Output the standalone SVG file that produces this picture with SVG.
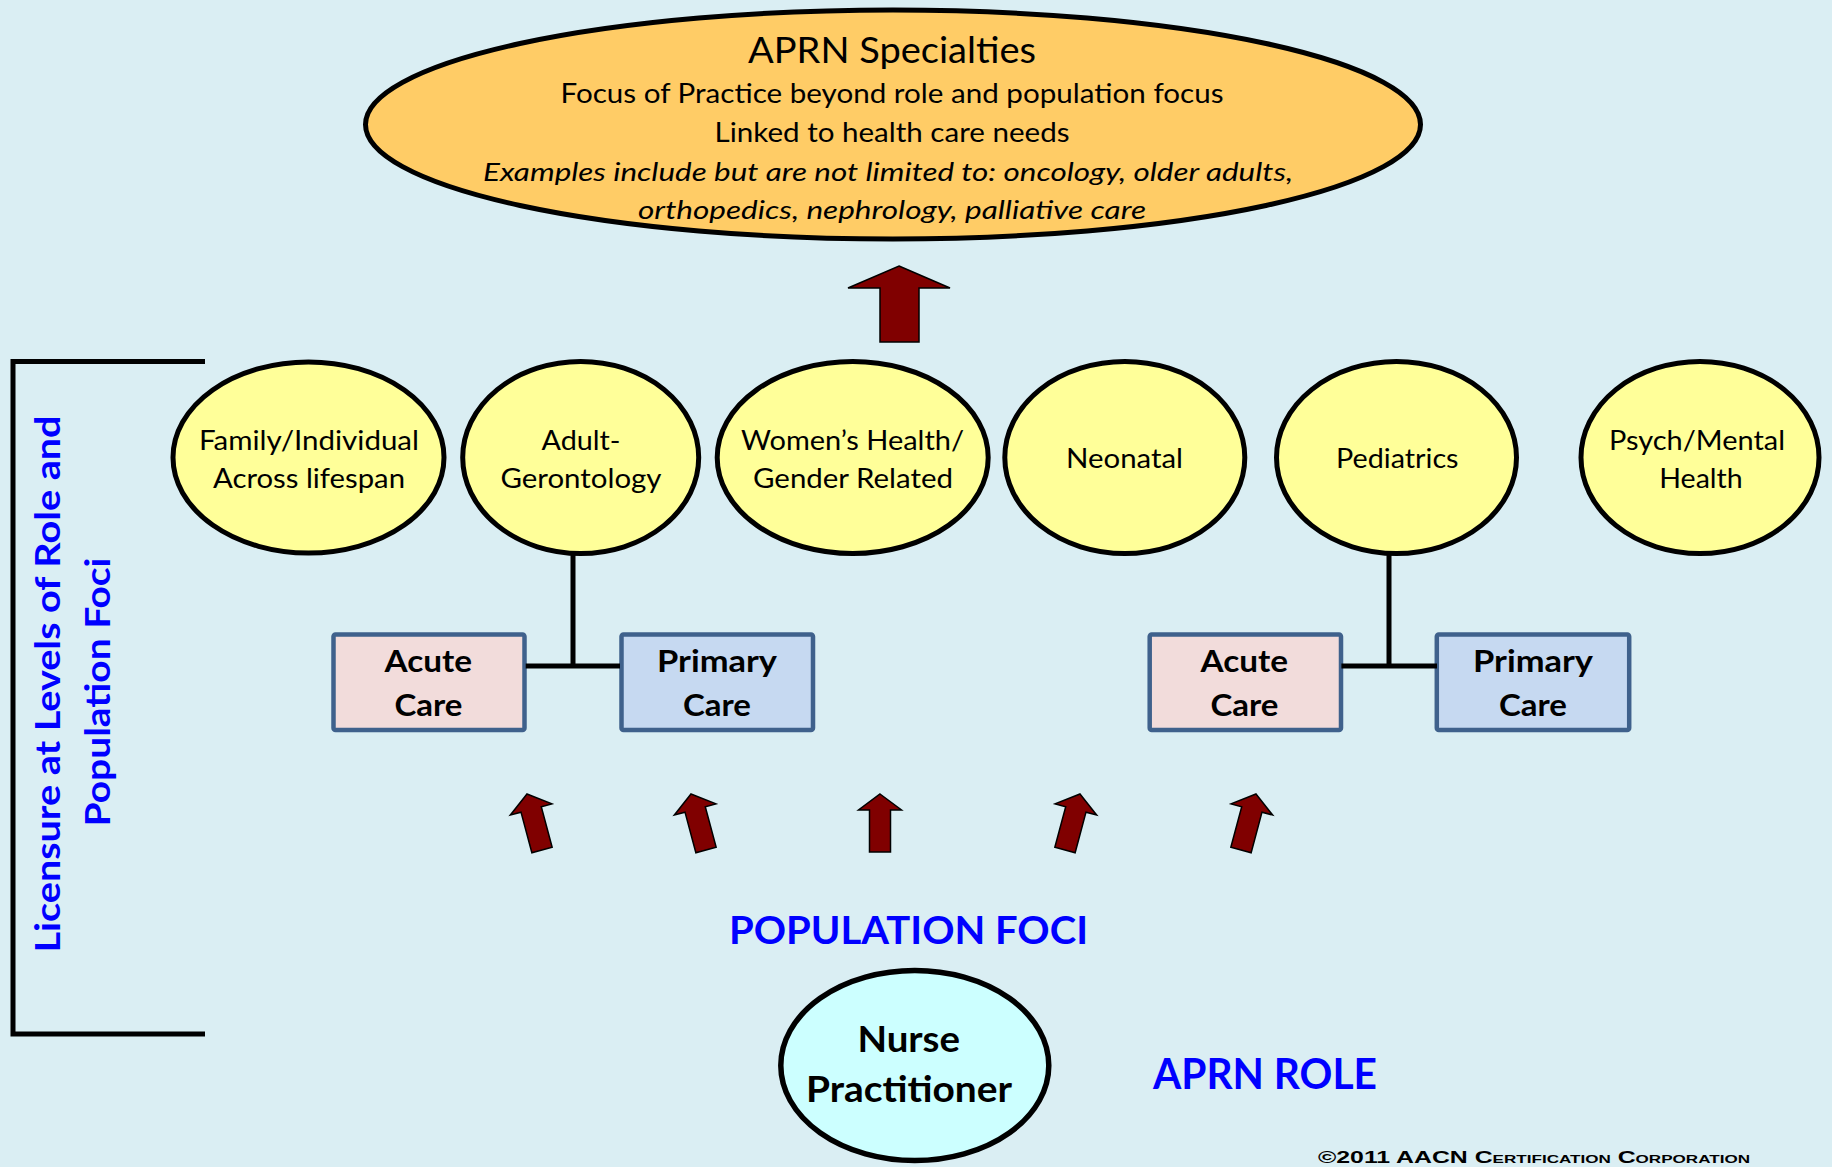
<svg xmlns="http://www.w3.org/2000/svg" width="1832" height="1167" viewBox="0 0 1832 1167">
<style>
.t{font-family:Lato,"Liberation Sans",sans-serif;fill:#000;text-anchor:middle}
.b{font-weight:bold}
.blue{fill:#0000FF;font-weight:bold}
.pop{fill:#FFFF99;stroke:#000;stroke-width:5}
.box{stroke:#3F618C;stroke-width:4.5}
.ln{stroke:#000;stroke-width:5;fill:none}
.arr{fill:#800000;stroke:#000;stroke-width:1.5;stroke-linejoin:miter}
</style>
<defs>
<polygon id="sa" points="0,0 21.5,16 10.5,16 10.5,58 -10.5,58 -10.5,16 -21.5,16"/>
</defs>
<rect x="0" y="0" width="1832" height="1167" fill="#DAEEF3"/>

<g id="specialties">
<ellipse cx="893" cy="124.5" rx="527.5" ry="114.5" fill="#FFCC66" stroke="#000" stroke-width="5"/>
<text class="t" x="892" y="63" font-size="36" textLength="288" lengthAdjust="spacingAndGlyphs">APRN Specialties</text>
<text class="t" x="892" y="103" font-size="26" textLength="663" lengthAdjust="spacingAndGlyphs">Focus of Practice beyond role and population focus</text>
<text class="t" x="892" y="141.5" font-size="26" textLength="355" lengthAdjust="spacingAndGlyphs">Linked to health care needs</text>
<text class="t" x="888" y="180.5" font-size="26" font-style="italic" textLength="810" lengthAdjust="spacingAndGlyphs">Examples include but are not limited to: oncology, older adults,</text>
<text class="t" x="892" y="218.5" font-size="26" font-style="italic" textLength="508" lengthAdjust="spacingAndGlyphs">orthopedics, nephrology, palliative care</text>
</g>

<g id="bracket">
<path class="ln" d="M205,361.5 H13 V1034 H205" stroke-width="5.5"/>
<text class="t blue" transform="translate(60,684) rotate(-90)" font-size="35" textLength="537" lengthAdjust="spacingAndGlyphs">Licensure at Levels of Role and</text>
<text class="t blue" transform="translate(110,692) rotate(-90)" font-size="35" textLength="269" lengthAdjust="spacingAndGlyphs">Population Foci</text>
</g>

<g id="family">
<ellipse class="pop" cx="308.5" cy="457.5" rx="135.5" ry="95.5" stroke-width="7"/>
<text class="t" x="309" y="450" font-size="27" textLength="220" lengthAdjust="spacingAndGlyphs">Family/Individual</text>
<text class="t" x="309" y="487.7" font-size="27" textLength="192" lengthAdjust="spacingAndGlyphs">Across lifespan</text>
</g>
<g id="adult">
<ellipse class="pop" cx="580.7" cy="457.5" rx="118" ry="96"/>
<text class="t" x="581" y="450" font-size="27" textLength="79" lengthAdjust="spacingAndGlyphs">Adult-</text>
<text class="t" x="581" y="487.7" font-size="27" textLength="161" lengthAdjust="spacingAndGlyphs">Gerontology</text>
</g>
<g id="womens">
<ellipse class="pop" cx="852.7" cy="457.5" rx="135.5" ry="96"/>
<text class="t" x="852.6" y="450" font-size="27" textLength="223" lengthAdjust="spacingAndGlyphs">Women’s Health/</text>
<text class="t" x="853" y="487.7" font-size="27" textLength="200" lengthAdjust="spacingAndGlyphs">Gender Related</text>
</g>
<g id="neonatal">
<ellipse class="pop" cx="1124.8" cy="457.5" rx="120" ry="96"/>
<text class="t" x="1124.5" y="468.3" font-size="27" textLength="117" lengthAdjust="spacingAndGlyphs">Neonatal</text>
</g>
<g id="pediatrics">
<ellipse class="pop" cx="1396.5" cy="457.5" rx="120" ry="96"/>
<text class="t" x="1397.3" y="468.3" font-size="27" textLength="122.5" lengthAdjust="spacingAndGlyphs">Pediatrics</text>
</g>
<g id="psych">
<ellipse class="pop" cx="1700" cy="457.5" rx="119" ry="96"/>
<text class="t" x="1697" y="450" font-size="27" textLength="176" lengthAdjust="spacingAndGlyphs">Psych/Mental</text>
<text class="t" x="1701" y="487.7" font-size="27" textLength="83.5" lengthAdjust="spacingAndGlyphs">Health</text>
</g>

<g id="acute-left">
<rect class="box" x="333.5" y="634.5" width="191" height="95.5" rx="2" fill="#F2DCDB"/>
<text class="t b" x="428.3" y="671.7" font-size="31" textLength="87.5" lengthAdjust="spacingAndGlyphs">Acute</text>
<text class="t b" x="428.5" y="716" font-size="31" textLength="68" lengthAdjust="spacingAndGlyphs">Care</text>
</g>
<g id="primary-left">
<rect class="box" x="621.5" y="634.5" width="191.5" height="95.5" rx="2" fill="#C6D9F1"/>
<text class="t b" x="717" y="671.7" font-size="31" textLength="120" lengthAdjust="spacingAndGlyphs">Primary</text>
<text class="t b" x="717" y="716" font-size="31" textLength="68" lengthAdjust="spacingAndGlyphs">Care</text>
</g>
<g id="acute-right">
<rect class="box" x="1149.7" y="634.5" width="191.3" height="95.5" rx="2" fill="#F2DCDB"/>
<text class="t b" x="1244.3" y="671.7" font-size="31" textLength="87.5" lengthAdjust="spacingAndGlyphs">Acute</text>
<text class="t b" x="1244.5" y="716" font-size="31" textLength="68" lengthAdjust="spacingAndGlyphs">Care</text>
</g>
<g id="primary-right">
<rect class="box" x="1436.8" y="634.5" width="192.4" height="95.5" rx="2" fill="#C6D9F1"/>
<text class="t b" x="1533" y="671.7" font-size="31" textLength="120" lengthAdjust="spacingAndGlyphs">Primary</text>
<text class="t b" x="1533" y="716" font-size="31" textLength="68" lengthAdjust="spacingAndGlyphs">Care</text>
</g>

<g id="nurse-practitioner">
<ellipse cx="914.8" cy="1065.5" rx="134" ry="95" fill="#CCFFFF" stroke="#000" stroke-width="5.5"/>
<text class="t b" x="908.7" y="1051.7" font-size="36" textLength="102.6" lengthAdjust="spacingAndGlyphs">Nurse</text>
<text class="t b" x="909" y="1101.7" font-size="36" textLength="206" lengthAdjust="spacingAndGlyphs">Practitioner</text>
</g>

<g id="labels">
<text class="t blue" x="908.5" y="944" font-size="39" textLength="359" lengthAdjust="spacingAndGlyphs">POPULATION FOCI</text>
<text class="t blue" x="1265" y="1089" font-size="42" textLength="224" lengthAdjust="spacingAndGlyphs">APRN ROLE</text>
<text x="1318" y="1163" font-family="'Liberation Sans',Arial,sans-serif" font-weight="bold" font-size="16" font-variant="small-caps" fill="#000" textLength="432" lengthAdjust="spacingAndGlyphs">©2011  AACN Certification Corporation</text>
</g>

<g id="connectors">
<path class="ln" d="M573,555 V666 M525.7,666 H620"/>
<path class="ln" d="M1389,555 V666 M1341.4,666 H1437"/>
<polygon class="arr" points="899,266 950,288 919,288 919,342 880,342 880,288 848,288" stroke-width="2"/>
<use href="#sa" class="arr" transform="translate(527,794) rotate(-15)"/>
<use href="#sa" class="arr" transform="translate(691,794) rotate(-15)"/>
<use href="#sa" class="arr" transform="translate(880,794)"/>
<use href="#sa" class="arr" transform="translate(1080,794) rotate(15)"/>
<use href="#sa" class="arr" transform="translate(1256,794) rotate(15)"/>
</g>
</svg>
